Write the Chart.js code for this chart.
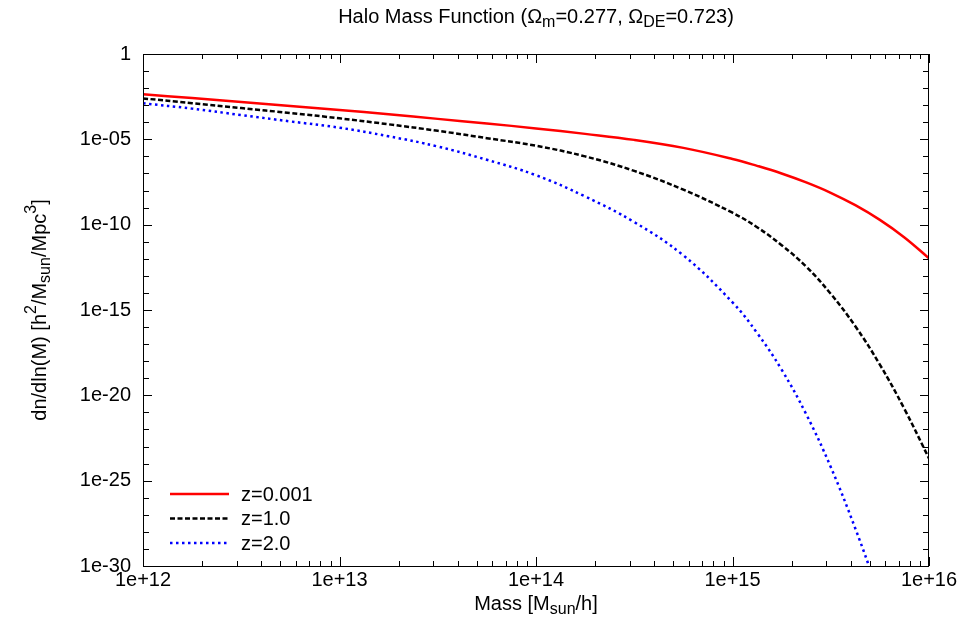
<!DOCTYPE html>
<html lang="en">
<head>
    <meta charset="UTF-8">
    <title>Halo Mass Function</title>
    <style>
        html, body { margin: 0; padding: 0; background: #fff; overflow: hidden; }
        canvas { display: block; }
    </style>
</head>
<body>
    <canvas id="hmfChart" width="973" height="630"></canvas>

    <script src="https://cdn.jsdelivr.net/npm/chart.js"></script>
    <script>
        // halo mass [M_sun/h]
        const masses = [1e12, 1.778e12, 3.162e12, 5.623e12, 1e13, 1.778e13, 3.162e13, 5.623e13,
                        1e14, 1.778e14, 3.162e14, 5.623e14, 1e15, 1.334e15, 1.778e15, 2.371e15,
                        3.162e15, 4.217e15, 5.623e15, 7.499e15, 1e16];

        // dn/dln(M)
        const z0001 = [4.37e-3, 2.63e-3, 1.55e-3, 9.1e-4, 5.25e-4, 2.95e-4, 1.58e-4, 8.5e-5,
                       4.37e-5, 2.09e-5, 9.3e-6, 3.16e-6, 7.1e-7, 2.8e-7, 1.0e-7, 3.0e-8,
                       7.4e-9, 1.38e-9, 1.9e-10, 1.78e-11, 1.07e-12];
        const z10 = [2.5e-3, 1.32e-3, 6.8e-4, 3.5e-4, 1.7e-4, 7.6e-5, 3.16e-5, 1.17e-5,
                     4.2e-6, 1.0e-6, 1.41e-7, 1.12e-8, 5.0e-10, 7.1e-11, 6.3e-12, 3.5e-13,
                     8.9e-15, 1.12e-16, 6.3e-19, 1.58e-21, 2.0e-24];
        const z20 = [1.29e-3, 6.3e-4, 2.63e-4, 1.12e-4, 4.8e-5, 1.51e-5, 3.8e-6, 6.3e-7,
                     7.9e-8, 4.5e-9, 1.41e-10, 1.58e-12, 2.8e-15, 4.5e-17, 3.2e-19, 7.9e-22,
                     6.3e-25, 1.58e-28, 1.58e-32, null, null];

        const seriesNames = ['z=0.001', 'z=1.0', 'z=2.0'];

        // tick labels
        const xTicks = [1e12, 1e13, 1e14, 1e15, 1e16];
        const xTickLabels = ['1e+12', '1e+13', '1e+14', '1e+15', '1e+16'];
        const yTicks = [1, 1e-5, 1e-10, 1e-15, 1e-20, 1e-25, 1e-30];
        const yTickLabels = ['1', '1e-05', '1e-10', '1e-15', '1e-20', '1e-25', '1e-30'];

        const FONT = '"Liberation Sans", Arial, Helvetica, sans-serif';
        const FS = 20;

        function pts(vals) {
            return masses.map((m, i) => ({ x: m, y: vals[i] }));
        }

        // text with sub/superscripts: parts = [[text, 0|'sub'|'sup'], ...]
        function richWidth(ctx, parts, size) {
            let w = 0;
            parts.forEach(p => {
                ctx.font = (p[1] ? size * 0.8 : size) + 'px ' + FONT;
                w += ctx.measureText(p[0]).width;
            });
            return w;
        }
        function drawRich(ctx, parts, size, x, y) {
            let cx = x - richWidth(ctx, parts, size) / 2;
            ctx.textAlign = 'left';
            ctx.textBaseline = 'middle';
            parts.forEach(p => {
                let dy = 0;
                if (p[1] === 'sub') dy = size * 0.3;
                if (p[1] === 'sup') dy = -size * 0.4;
                ctx.font = (p[1] ? size * 0.8 : size) + 'px ' + FONT;
                ctx.fillText(p[0], cx, y + dy);
                cx += ctx.measureText(p[0]).width;
            });
        }

        const decorations = {
            id: 'gnuplotFrame',
            afterDraw(chart) {
                const ctx = chart.ctx;
                const a = chart.chartArea;
                const xs = chart.scales.x, ys = chart.scales.y;
                ctx.save();
                ctx.strokeStyle = '#000';
                ctx.fillStyle = '#000';
                ctx.lineWidth = 1;
                ctx.strokeRect(a.left + 0.5, a.top + 0.5, a.right - a.left - 1, a.bottom - a.top);

                // inward ticks
                ctx.beginPath();
                for (let e = 12; e <= 16; e++) {
                    for (let k = 1; k <= 9; k++) {
                        if (e === 16 && k > 1) break;
                        const px = Math.round(xs.getPixelForValue(k * Math.pow(10, e))) + 0.5;
                        const len = k === 1 ? 9 : 5;
                        ctx.moveTo(px, a.bottom); ctx.lineTo(px, a.bottom - len);
                        ctx.moveTo(px, a.top); ctx.lineTo(px, a.top + len);
                    }
                }
                for (let e = 0; e >= -30; e--) {
                    const py = Math.round(ys.getPixelForValue(Math.pow(10, e))) + 0.5;
                    const len = e % 5 === 0 ? 9 : 6;
                    ctx.moveTo(a.left, py); ctx.lineTo(a.left + len, py);
                    ctx.moveTo(a.right, py); ctx.lineTo(a.right - len, py);
                }
                ctx.stroke();

                // titles
                const midX = (a.left + a.right) / 2;
                drawRich(ctx, [['Halo Mass Function (\u03A9', 0], ['m', 'sub'], ['=0.277, \u03A9', 0],
                               ['DE', 'sub'], ['=0.723)', 0]], FS, midX, 17);
                drawRich(ctx, [['Mass [M', 0], ['sun', 'sub'], ['/h]', 0]], FS, midX, 604);
                ctx.save();
                ctx.translate(40, (a.top + a.bottom) / 2);
                ctx.rotate(-Math.PI / 2);
                drawRich(ctx, [['dn/dln(M) [h', 0], ['2', 'sup'], ['/M', 0], ['sun', 'sub'],
                               ['/Mpc', 0], ['3', 'sup'], [']', 0]], FS, 0, 0);
                ctx.restore();

                // legend inside the plot, lower left
                chart.data.datasets.forEach((ds, i) => {
                    const y = a.bottom - 72 + i * 24.5;
                    ctx.save();
                    ctx.strokeStyle = ds.borderColor;
                    ctx.lineWidth = ds.borderWidth;
                    ctx.setLineDash(ds.borderDash || []);
                    ctx.beginPath();
                    ctx.moveTo(a.left + 27, y);
                    ctx.lineTo(a.left + 86, y);
                    ctx.stroke();
                    ctx.restore();
                    ctx.font = FS + 'px ' + FONT;
                    ctx.textAlign = 'left';
                    ctx.textBaseline = 'middle';
                    ctx.fillText(ds.label, a.left + 98, y + 1);
                });
                ctx.restore();
            }
        };

        const ctx = document.getElementById('hmfChart').getContext('2d');

        const hmfChart = new Chart(ctx, {
            type: 'line',
            data: {
                datasets: [{
                    label: seriesNames[0],
                    data: pts(z0001),
                    borderColor: '#ff0000',
                    borderWidth: 2.5
                }, {
                    label: seriesNames[1],
                    data: pts(z10),
                    borderColor: '#000000',
                    borderWidth: 2.5,
                    borderDash: [5, 2.5]
                }, {
                    label: seriesNames[2],
                    data: pts(z20),
                    borderColor: '#0000ff',
                    borderWidth: 2.5,
                    borderDash: [2.5, 3.5]
                }]
            },
            options: {
                responsive: false,
                animation: false,
                parsing: false,
                elements: {
                    point: { radius: 0 },
                    line: { tension: 0.4, fill: false }
                },
                layout: { padding: { left: 0, top: 54, right: 44, bottom: 0 } },
                scales: {
                    x: {
                        type: 'logarithmic',
                        min: 1e12,
                        max: 1e16,
                        grid: { display: false, drawTicks: false },
                        border: { display: false },
                        afterBuildTicks: s => { s.ticks = xTicks.map(v => ({ value: v })); },
                        afterFit: s => { s.height = 64; },
                        ticks: {
                            padding: 2,
                            maxRotation: 0,
                            color: '#000',
                            font: { family: FONT, size: FS },
                            callback: v => xTickLabels[xTicks.indexOf(v)]
                        }
                    },
                    y: {
                        type: 'logarithmic',
                        min: 1e-30,
                        max: 1,
                        grid: { display: false, drawTicks: false },
                        border: { display: false },
                        afterBuildTicks: s => { s.ticks = yTicks.map(v => ({ value: v })); },
                        afterFit: s => { s.width = 143; },
                        ticks: {
                            padding: 12,
                            color: '#000',
                            font: { family: FONT, size: FS },
                            callback: v => yTickLabels[yTicks.indexOf(v)]
                        }
                    }
                },
                plugins: {
                    legend: { display: false },
                    tooltip: { enabled: false }
                }
            },
            plugins: [decorations]
        });
    </script>
</body>
</html>
